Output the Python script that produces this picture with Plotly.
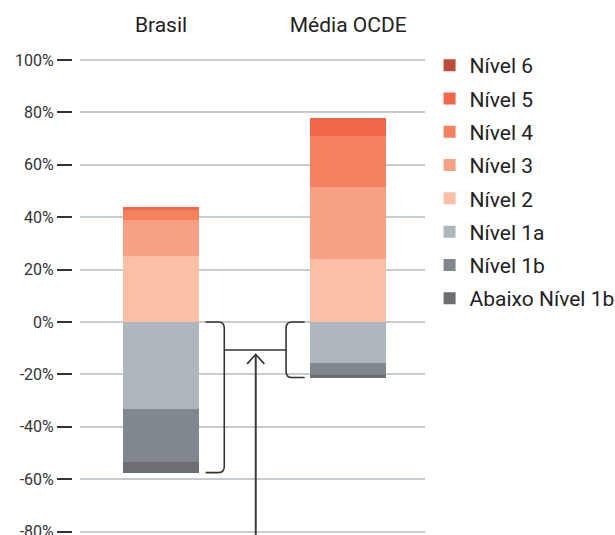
import plotly.graph_objects as go

categories = [0, 1]
category_labels = ["Brasil", "Média OCDE"]

levels = ["Nível 1a", "Nível 1b", "Abaixo Nível 1b", "Nível 2", "Nível 3", "Nível 4", "Nível 5", "Nível 6"]
nivel_1a = [-33.3, -15.6]
nivel_1b = [-20.2, -4.6]
abaixo_1b = [-4.0, -1.0]
nivel_2 = [25.3, 24.0]
nivel_3 = [13.6, 27.6]
nivel_4 = [3.8, 19.4]
nivel_5 = [1.2, 7.0]
nivel_6 = [0.0, 0.0]

series = [nivel_1a, nivel_1b, abaixo_1b, nivel_2, nivel_3, nivel_4, nivel_5, nivel_6]
colors = ["#AEB7BC", "#80888E", "#6D6E72", "#FABFA6", "#F7A083", "#F5825F", "#F2664A", "#BC4B38"]
ranks = [6, 7, 8, 5, 4, 3, 2, 1]

y_ticks = [100, 80, 60, 40, 20, 0, -20, -40, -60, -80]
y_tick_labels = ["100%", "80%", "60%", "40%", "20%", "0%", "-20%", "-40%", "-60%", "-80%"]

FONT = "Roboto"
fig = go.Figure()
for name, vals, col, rk in zip(levels, series, colors, ranks):
    fig.add_trace(go.Bar(
        x=categories, y=vals, name=name, marker=dict(color=col, line=dict(width=0)),
        width=0.406, legendrank=rk, legendgroup=name, hoverinfo="name+y",
    ))

neg_totals = [sum(-s[i] for s in (nivel_1a, nivel_1b, abaixo_1b)) for i in range(2)]

line = dict(color="#333333", width=1.6)
rx, ry = 0.032, 2.3
# Brasil right bracket
x0, xv, b = 0.238, 0.338, -neg_totals[0]
fig.add_shape(type="path", xref="x", yref="y", line=line,
              path=f"M {x0},0 L {xv-rx},0 Q {xv},0 {xv},{-ry} L {xv},{b+ry} Q {xv},{b} {xv-rx},{b} L {x0},{b}")
# OCDE left bracket
xv2, x1, b2 = 0.668, 0.767, -neg_totals[1]
fig.add_shape(type="path", xref="x", yref="y", line=line,
              path=f"M {x1},0 L {xv2+rx},0 Q {xv2},0 {xv2},{-ry} L {xv2},{b2+ry} Q {xv2},{b2} {xv2+rx},{b2} L {x1},{b2}")
# connector
fig.add_shape(type="line", xref="x", yref="y", x0=xv, x1=xv2, y0=-10.7, y1=-10.7, line=line)
# arrow
ax = 0.506
fig.add_shape(type="line", xref="x", yref="y", x0=ax, x1=ax, y0=-90, y1=-12.6,
              line=dict(color="#3a3a3a", width=2))
fig.add_shape(type="path", xref="x", yref="y", line=line,
              path=f"M {ax-0.046},-16.0 L {ax},-12.4 L {ax+0.046},-16.0")

fig.update_layout(
    width=615, height=535,
    margin=dict(l=0, r=0, t=50, b=0, autoexpand=False),
    paper_bgcolor="white", plot_bgcolor="white",
    barmode="relative", bargap=0,
    font=dict(family=FONT, color="#222222"),
    showlegend=True,
    legend=dict(x=0.6985, xanchor="left", y=1.0103, yanchor="top", font=dict(size=21, color="#222222"),
                tracegroupgap=3, bgcolor="rgba(0,0,0,0)", itemclick=False),
    xaxis=dict(domain=[0.13, 0.691], range=[-0.433, 1.41], tickvals=categories, ticktext=category_labels,
               side="top", showgrid=False, zeroline=False, showline=False, ticks="",
               tickfont=dict(size=21, color="#222222"), ticklabelstandoff=13, fixedrange=True),
    yaxis=dict(anchor="free", position=0.117, range=[-81.3, 103.8], tickvals=y_ticks, ticktext=y_tick_labels,
               showgrid=True, gridcolor="#C5CCD2", gridwidth=1.5, zeroline=False, showline=False,
               ticks="outside", ticklen=15, tickwidth=2, tickcolor="#333333", ticklabeloverflow="allow",
               tickfont=dict(size=16, color="#333333"), fixedrange=True),
)

fig.write_html("out.html", config={"displayModeBar": False},
               post_script="document.body.style.margin='0px';")
